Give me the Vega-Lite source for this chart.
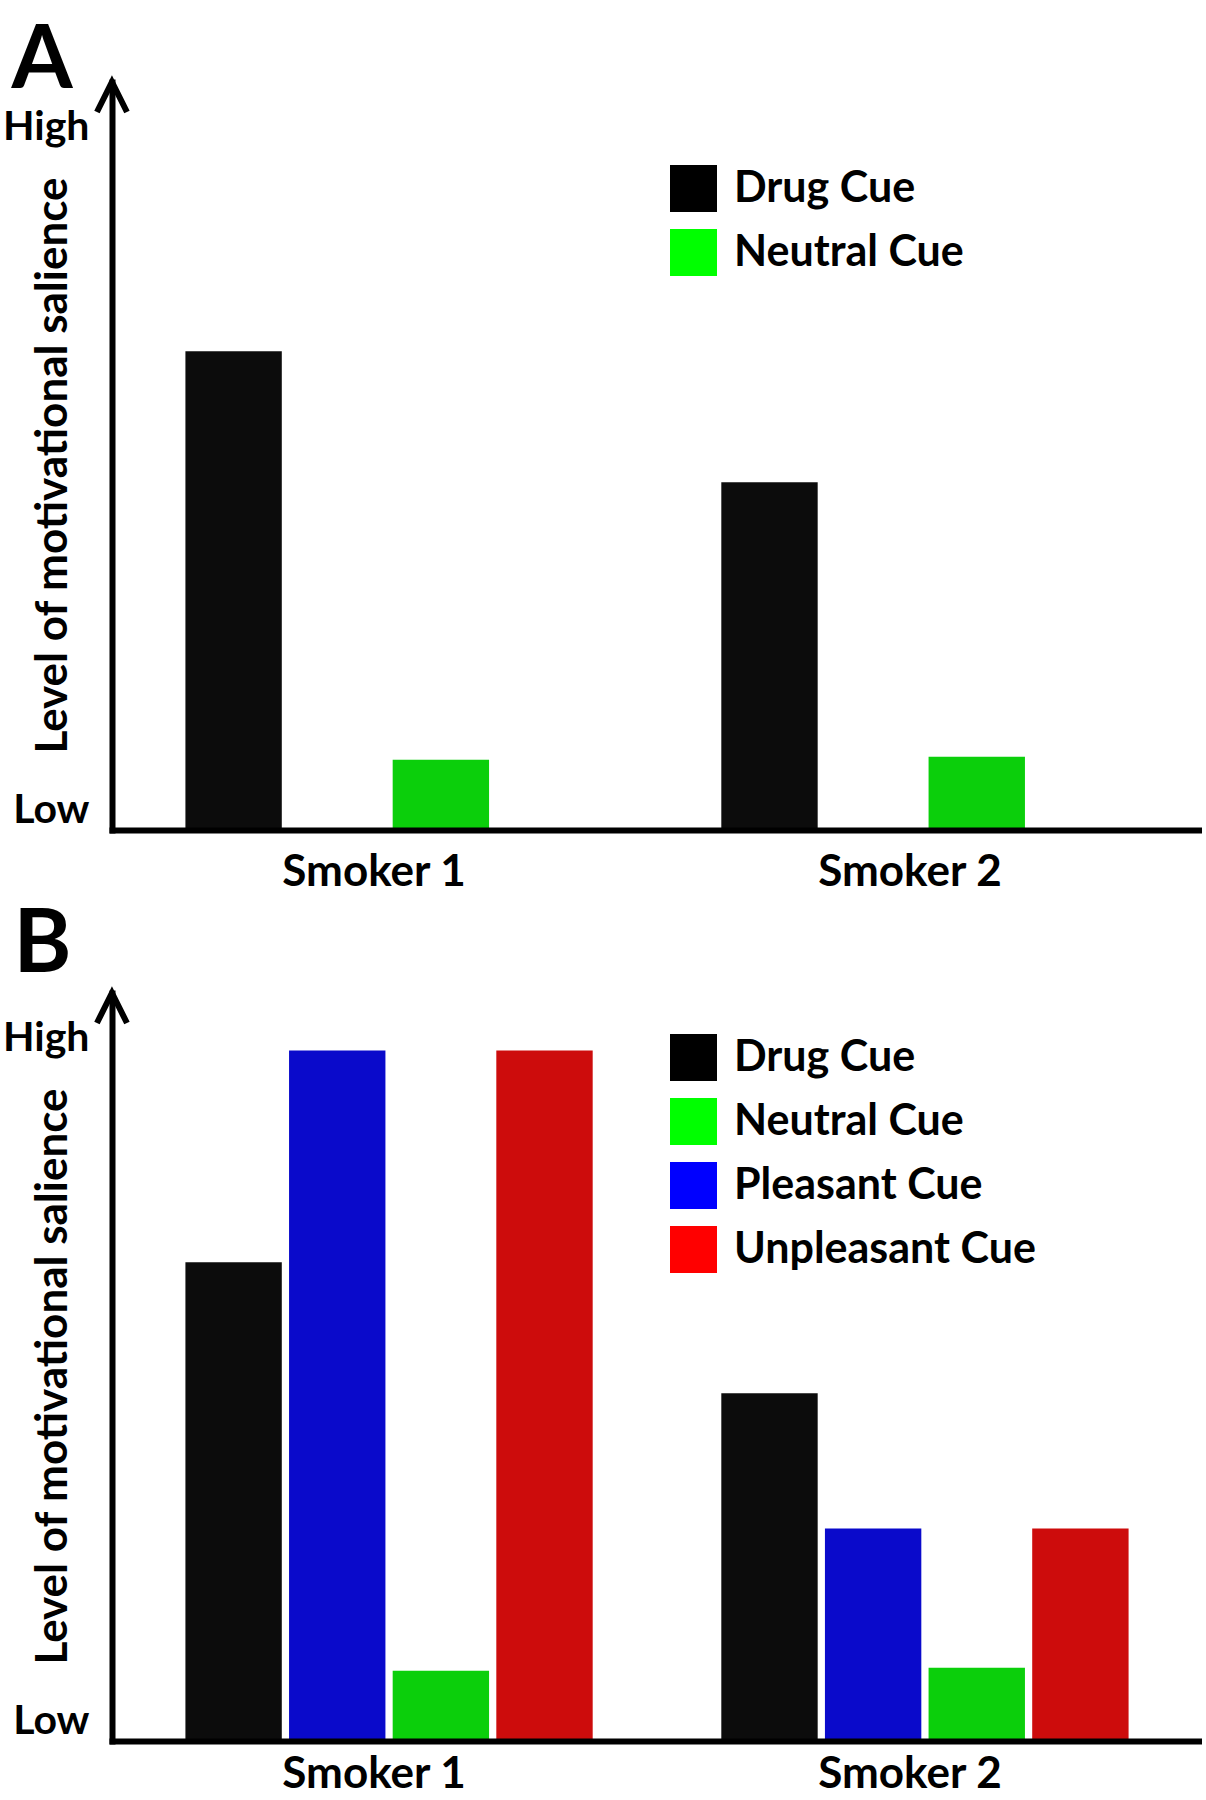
{
  "$schema": "https://vega.github.io/schema/vega-lite/v6.json",
  "padding": {"left": 2, "top": 18, "right": 0, "bottom": 0},
  "background": "white",
  "datasets": {
    "a": [
      {"smoker": "Smoker 1", "cue": "Drug Cue", "level": 64},
      {"smoker": "Smoker 1", "cue": "Neutral Cue", "level": 9.4},
      {"smoker": "Smoker 2", "cue": "Drug Cue", "level": 46.5},
      {"smoker": "Smoker 2", "cue": "Neutral Cue", "level": 9.8}
    ],
    "b": [
      {"smoker": "Smoker 1", "cue": "Drug Cue", "level": 64},
      {"smoker": "Smoker 1", "cue": "Pleasant Cue", "level": 92.3},
      {"smoker": "Smoker 1", "cue": "Neutral Cue", "level": 9.4},
      {"smoker": "Smoker 1", "cue": "Unpleasant Cue", "level": 92.3},
      {"smoker": "Smoker 2", "cue": "Drug Cue", "level": 46.5},
      {"smoker": "Smoker 2", "cue": "Pleasant Cue", "level": 28.4},
      {"smoker": "Smoker 2", "cue": "Neutral Cue", "level": 9.8},
      {"smoker": "Smoker 2", "cue": "Unpleasant Cue", "level": 28.4}
    ],
    "arrow": [{"smoker": "Smoker 1", "level": 100}]
  },
  "config": {
    "font": "Lato",
    "view": {"stroke": null},
    "axis": {
      "grid": false, "ticks": false, "tickSize": 0,
      "domainColor": "#000000", "domainWidth": 6, "domainCap": "square",
      "labelFont": "Lato", "labelFontWeight": "bold", "labelFontSize": 41, "labelColor": "#000000",
      "titleFont": "Lato", "titleFontWeight": "bold", "titleFontSize": 44, "titleColor": "#000000",
      "labelOverlap": false, "labelLimit": 500
    },
    "legend": {
      "orient": "none", "symbolType": "square", "symbolSize": 2209, "symbolStrokeWidth": 0,
      "symbolOpacity": 1, "labelFont": "Lato", "labelFontWeight": "bold", "labelFontSize": 43,
      "labelColor": "#000000", "labelOffset": 17, "rowPadding": 17, "padding": 0, "labelLimit": 600
    },
    "title": {"font": "Lato", "fontWeight": "bold", "fontSize": 88, "anchor": "start", "frame": "bounds", "color": "#000000"}
  },
  "spacing": 8,
  "vconcat": [
    {
      "title": {"text": "A", "dx": 9, "offset": -36},
      "width": 1090,
      "height": 748,
      "layer": [
        {
          "data": {"name": "a"},
          "mark": {"type": "bar"},
          "encoding": {
            "x": {"field": "smoker", "type": "nominal", "sort": ["Smoker 1", "Smoker 2"],
              "scale": {"paddingInner": 0.24, "paddingOuter": 0.137},
              "axis": {"title": null, "labelAngle": 0, "labelFontSize": 44, "labelPadding": 20, "labelOffset": -15, "zindex": 1}},
            "xOffset": {"field": "cue", "type": "nominal",
              "scale": {"domain": ["Drug Cue", "Pleasant Cue", "Neutral Cue", "Unpleasant Cue"], "paddingInner": 0.07, "paddingOuter": 0}},
            "y": {"field": "level", "type": "quantitative", "scale": {"domain": [0, 100]},
              "axis": {"title": "Level of motivational salience", "values": [2.6, 93.9],
                "labelExpr": "datum.value > 50 ? 'High' : 'Low'", "labelPadding": 23,
                "titleX": -59, "titleY": 383, "titleAngle": 270, "titleAlign": "center", "titleBaseline": "middle", "zindex": 1}},
            "color": {"field": "cue", "type": "nominal",
              "scale": {"domain": ["Drug Cue", "Neutral Cue", "Pleasant Cue", "Unpleasant Cue"], "range": ["#0c0c0c", "#0bcf0b", "#0a0acb", "#cd0c0c"]},
              "legend": null}
          }
        },
        {
          "data": {"name": "a"},
          "mark": {"type": "bar"},
          "encoding": {
            "x": {"field": "smoker", "type": "nominal", "sort": ["Smoker 1", "Smoker 2"],
              "axis": {"title": null, "labelAngle": 0, "labelFontSize": 44, "labelPadding": 20, "labelOffset": -15, "zindex": 1}},
            "xOffset": {"field": "cue", "type": "nominal"},
            "y": {"datum": 0, "type": "quantitative",
              "axis": {"title": "Level of motivational salience", "values": [2.6, 93.9],
                "labelExpr": "datum.value > 50 ? 'High' : 'Low'", "labelPadding": 23,
                "titleX": -59, "titleY": 383, "titleAngle": 270, "titleAlign": "center", "titleBaseline": "middle", "zindex": 1}},
            "y2": {"datum": 0},
            "color": {"field": "cue", "type": "nominal",
              "scale": {"domain": ["Drug Cue", "Neutral Cue"], "range": ["#000000", "#00ff00"]},
              "legend": {"title": null, "legendX": 558, "legendY": 83}}
          }
        },
        {
          "data": {"name": "arrow"},
          "mark": {"type": "point", "shape": "M-1,2L0,0L1,2", "size": 900, "filled": false, "color": "#000000", "strokeWidth": 6, "strokeJoin": "miter", "opacity": 1},
          "encoding": {
            "x": {"field": "smoker", "type": "nominal", "sort": ["Smoker 1", "Smoker 2"], "bandPosition": -0.1804,
              "axis": {"title": null, "labelAngle": 0, "labelFontSize": 44, "labelPadding": 20, "labelOffset": -15, "zindex": 1}},
            "y": {"field": "level", "type": "quantitative",
              "axis": {"title": "Level of motivational salience", "values": [2.6, 93.9],
                "labelExpr": "datum.value > 50 ? 'High' : 'Low'", "labelPadding": 23,
                "titleX": -59, "titleY": 383, "titleAngle": 270, "titleAlign": "center", "titleBaseline": "middle", "zindex": 1}}
          }
        }
      ],
      "resolve": {"scale": {"color": "independent"}}
    },
    {
      "title": {"text": "B", "dx": 11, "offset": -9},
      "width": 1090,
      "height": 748,
      "layer": [
        {
          "data": {"name": "b"},
          "mark": {"type": "bar"},
          "encoding": {
            "x": {"field": "smoker", "type": "nominal", "sort": ["Smoker 1", "Smoker 2"],
              "scale": {"paddingInner": 0.24, "paddingOuter": 0.137},
              "axis": {"title": null, "labelAngle": 0, "labelFontSize": 44, "labelPadding": 11, "labelOffset": -15, "zindex": 1}},
            "xOffset": {"field": "cue", "type": "nominal",
              "scale": {"domain": ["Drug Cue", "Pleasant Cue", "Neutral Cue", "Unpleasant Cue"], "paddingInner": 0.07, "paddingOuter": 0}},
            "y": {"field": "level", "type": "quantitative", "scale": {"domain": [0, 100]},
              "axis": {"title": "Level of motivational salience", "values": [2.6, 93.9],
                "labelExpr": "datum.value > 50 ? 'High' : 'Low'", "labelPadding": 23,
                "titleX": -59, "titleY": 383, "titleAngle": 270, "titleAlign": "center", "titleBaseline": "middle", "zindex": 1}},
            "color": {"field": "cue", "type": "nominal",
              "scale": {"domain": ["Drug Cue", "Neutral Cue", "Pleasant Cue", "Unpleasant Cue"], "range": ["#0c0c0c", "#0bcf0b", "#0a0acb", "#cd0c0c"]},
              "legend": null}
          }
        },
        {
          "data": {"name": "b"},
          "mark": {"type": "bar"},
          "encoding": {
            "x": {"field": "smoker", "type": "nominal", "sort": ["Smoker 1", "Smoker 2"],
              "axis": {"title": null, "labelAngle": 0, "labelFontSize": 44, "labelPadding": 11, "labelOffset": -15, "zindex": 1}},
            "xOffset": {"field": "cue", "type": "nominal"},
            "y": {"datum": 0, "type": "quantitative",
              "axis": {"title": "Level of motivational salience", "values": [2.6, 93.9],
                "labelExpr": "datum.value > 50 ? 'High' : 'Low'", "labelPadding": 23,
                "titleX": -59, "titleY": 383, "titleAngle": 270, "titleAlign": "center", "titleBaseline": "middle", "zindex": 1}},
            "y2": {"datum": 0},
            "color": {"field": "cue", "type": "nominal",
              "scale": {"domain": ["Drug Cue", "Neutral Cue", "Pleasant Cue", "Unpleasant Cue"], "range": ["#000000", "#00ff00", "#0000ff", "#ff0000"]},
              "legend": {"title": null, "legendX": 558, "legendY": 41}}
          }
        },
        {
          "data": {"name": "arrow"},
          "mark": {"type": "point", "shape": "M-1,2L0,0L1,2", "size": 900, "filled": false, "color": "#000000", "strokeWidth": 6, "strokeJoin": "miter", "opacity": 1},
          "encoding": {
            "x": {"field": "smoker", "type": "nominal", "sort": ["Smoker 1", "Smoker 2"], "bandPosition": -0.1804,
              "axis": {"title": null, "labelAngle": 0, "labelFontSize": 44, "labelPadding": 11, "labelOffset": -15, "zindex": 1}},
            "y": {"field": "level", "type": "quantitative",
              "axis": {"title": "Level of motivational salience", "values": [2.6, 93.9],
                "labelExpr": "datum.value > 50 ? 'High' : 'Low'", "labelPadding": 23,
                "titleX": -59, "titleY": 383, "titleAngle": 270, "titleAlign": "center", "titleBaseline": "middle", "zindex": 1}}
          }
        }
      ],
      "resolve": {"scale": {"color": "independent"}}
    }
  ]
}
